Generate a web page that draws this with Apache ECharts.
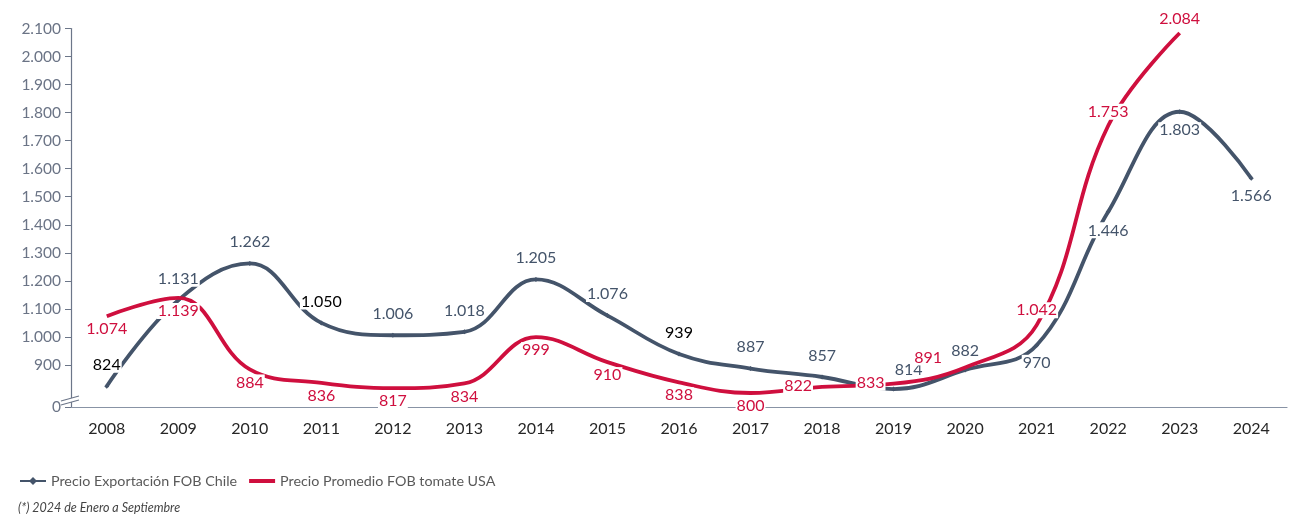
<!DOCTYPE html>
<html><head><meta charset="utf-8">
<script src="https://cdn.jsdelivr.net/npm/echarts@6/dist/echarts.min.js"></script>
<style>html,body{margin:0;padding:0;background:#fff}#c{width:1293px;height:517px}</style>
</head><body><div id="c"></div>
<script>
const years = ['2008','2009','2010','2011','2012','2013','2014','2015','2016','2017','2018','2019','2020','2021','2022','2023','2024'];
const chileFOB = [824,1131,1262,1050,1006,1018,1205,1076,939,887,857,814,882,970,1446,1803,1566];
const usaFOB = [1074,1139,884,836,817,834,999,910,838,800,822,833,891,1042,1753,2084,null];
const yTickValues = [900,1000,1100,1200,1300,1400,1500,1600,1700,1800,1900,2000,2100];
const seriesNames = ['Precio Exportación FOB Chile','Precio Promedio FOB tomate USA'];
const footnote = '(*) 2024 de Enero a Septiembre';

const AXIS_MIN = 750; // shown as "0" (broken axis)
const C_SLATE = '#44546a', C_RED = '#cf0f3e';
const fmt = v => String(v).replace(/\B(?=(\d{3})+(?!\d))/g, '.');

// label layout per point (style only)
const chileLab = {
  0:{color:'#000'},3:{color:'#000'},8:{color:'#000'},
  11:{offset:[15,0],distance:9},12:{distance:9},
  13:{position:'bottom',distance:7},14:{position:'bottom',distance:8},15:{position:'bottom',distance:8},16:{position:'bottom',distance:7}
};
const usaLab = {
  10:{position:'inside',offset:[-24,-1]},11:{position:'inside',offset:[-23,-1]},
  12:{position:'inside',offset:[-37,-10]},
  13:{position:'top',distance:7},14:{position:'top',distance:6},15:{position:'top',distance:6}
};
function build(vals, cfg, basePos, baseDist, color){
  return vals.map((v,i)=>{
    if (v==null) return null;
    const c = cfg[i]||{};
    return {value:v, label:{position:c.position||basePos, offset:c.offset||[0,0], distance:c.distance!=null?c.distance:baseDist, color:c.color||color}};
  });
}
const labelBase = {show:true, fontFamily:'Lato', fontSize:16, backgroundColor:'#fff', padding:[0,1], formatter:p=>fmt(p.value)};

const chart = echarts.init(document.getElementById('c'));
const footG = {type:'text',left:18,top:501,style:{text:footnote,font:'italic 12.5px Lato',fill:'#444'}};
chart.setOption({
  animation:false,
  grid:{left:71,right:6,top:28.5,bottom:110,containLabel:false},
  legend:{left:14,top:469,itemWidth:26,itemHeight:10,itemGap:12,
    textStyle:{fontFamily:'Lato',fontSize:14.3,color:'#595959'},
    data:[{name:seriesNames[0]},{name:seriesNames[1],icon:'path://M0,0 L26,0 L26,4 L0,4 Z'}]},
  graphic:[footG],
  xAxis:{type:'category',data:years,boundaryGap:true,
    axisLine:{lineStyle:{color:'#8893a5',width:1.2}},axisTick:{show:false},
    axisLabel:{fontFamily:'Lato',fontSize:16,color:'#262626',margin:14}},
  yAxis:{type:'value',min:AXIS_MIN,max:2100,splitLine:{show:false},
    axisLine:{show:true,lineStyle:{color:'#6c7689',width:1.2}},
    axisTick:{show:true,length:6,customValues:[AXIS_MIN].concat(yTickValues),lineStyle:{color:'#6c7689'}},
    axisLabel:{customValues:[AXIS_MIN].concat(yTickValues),fontFamily:'Lato',fontSize:15.5,color:'#6b7486',margin:10,
      formatter:v=>v===AXIS_MIN?'0':fmt(v)}},
  series:[
    {name:seriesNames[0],type:'line',smooth:0.4,data:build(chileFOB,chileLab,'top',11,C_SLATE),
     symbol:'diamond',symbolSize:5,showSymbol:true,
     lineStyle:{color:C_SLATE,width:3.8},itemStyle:{color:C_SLATE},
     label:labelBase,z:3},
    {name:seriesNames[1],type:'line',smooth:0.4,data:build(usaFOB,usaLab,'bottom',5,C_RED),
     symbol:'circle',symbolSize:0.01,showSymbol:true,connectNulls:false,
     lineStyle:{color:C_RED,width:3.8},itemStyle:{color:C_RED},
     label:labelBase,z:4}
  ]
});
// axis break marker
const gx = chart.convertToPixel({xAxisIndex:0}, years[0]) - 35.8;
const gy = chart.convertToPixel({yAxisIndex:0}, AXIS_MIN);
chart.setOption({graphic:[
  footG,
  {type:'polygon',shape:{points:[[gx-10,gy-6],[gx+8,gy-11],[gx+8,gy-7],[gx-10,gy-2]]},style:{fill:'#fff'},z:100},
  {type:'line',shape:{x1:gx-10,y1:gy-6,x2:gx+8,y2:gy-11},style:{stroke:'#6c7689',lineWidth:1.2},z:101},
  {type:'line',shape:{x1:gx-10,y1:gy-2,x2:gx+8,y2:gy-7},style:{stroke:'#6c7689',lineWidth:1.2},z:101}
]});
</script></body></html>
